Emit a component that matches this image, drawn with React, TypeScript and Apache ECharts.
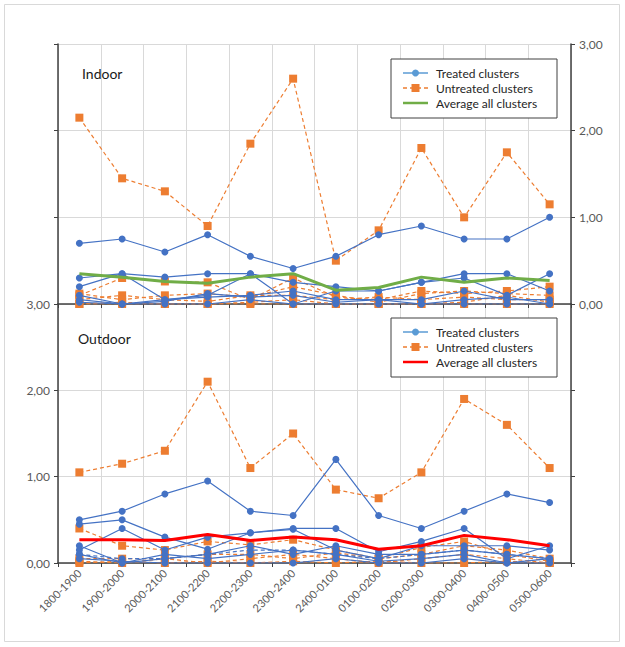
import React, { useEffect, useRef } from "react";
import * as echarts from "echarts";

const categories = [
  "1800-1900", "1900-2000", "2000-2100", "2100-2200", "2200-2300", "2300-2400",
  "2400-0100", "0100-0200", "0200-0300", "0300-0400", "0400-0500", "0500-0600",
];
const yTicks = [0, 1, 2, 3];

// Indoor
const indoorTreated1 = [0.70, 0.75, 0.60, 0.80, 0.55, 0.41, 0.55, 0.80, 0.90, 0.75, 0.75, 1.00];
const indoorTreated2 = [0.30, 0.35, 0.31, 0.35, 0.35, 0.25, 0.20, 0.15, 0.25, 0.35, 0.35, 0.15];
const indoorTreated3 = [0.20, 0.35, 0.05, 0.10, 0.35, 0.00, 0.15, 0.15, 0.25, 0.30, 0.10, 0.35];
const indoorTreated4 = [0.10, 0.00, 0.05, 0.08, 0.10, 0.15, 0.05, 0.05, 0.05, 0.15, 0.05, 0.05];
const indoorTreated5 = [0.05, 0.00, 0.03, 0.12, 0.08, 0.10, 0.02, 0.05, 0.00, 0.05, 0.08, 0.00];
const indoorTreated6 = [0.02, 0.00, 0.00, 0.00, 0.05, 0.00, 0.00, 0.00, 0.00, 0.00, 0.00, 0.00];
const indoorUntreated1 = [2.15, 1.45, 1.30, 0.90, 1.85, 2.60, 0.50, 0.85, 1.80, 1.00, 1.75, 1.15];
const indoorUntreated2 = [0.10, 0.30, 0.26, 0.25, 0.05, 0.30, 0.08, 0.05, 0.15, 0.12, 0.15, 0.20];
const indoorUntreated3 = [0.12, 0.05, 0.10, 0.12, 0.08, 0.20, 0.10, 0.02, 0.12, 0.15, 0.12, 0.10];
const indoorUntreated4 = [0.05, 0.10, 0.05, 0.03, 0.10, 0.10, 0.05, 0.08, 0.05, 0.08, 0.05, 0.05];
const indoorUntreated5 = [0.00, 0.02, 0.00, 0.00, 0.02, 0.05, 0.00, 0.00, 0.00, 0.02, 0.10, 0.02];
const indoorUntreated6 = [0.00, 0.00, 0.00, 0.00, 0.00, 0.00, 0.00, 0.00, 0.00, 0.00, 0.00, 0.00];
const indoorAverage = [0.35, 0.31, 0.26, 0.24, 0.31, 0.35, 0.16, 0.19, 0.31, 0.25, 0.30, 0.27];

// Outdoor
const outdoorTreated1 = [0.50, 0.60, 0.80, 0.95, 0.60, 0.55, 1.20, 0.55, 0.40, 0.60, 0.80, 0.70];
const outdoorTreated2 = [0.45, 0.50, 0.30, 0.16, 0.35, 0.40, 0.40, 0.13, 0.25, 0.40, 0.05, 0.20];
const outdoorTreated3 = [0.15, 0.40, 0.15, 0.30, 0.35, 0.39, 0.15, 0.05, 0.20, 0.20, 0.20, 0.15];
const outdoorTreated4 = [0.20, 0.00, 0.05, 0.10, 0.20, 0.10, 0.20, 0.10, 0.10, 0.15, 0.10, 0.05];
const outdoorTreated5 = [0.10, 0.00, 0.10, 0.05, 0.10, 0.15, 0.10, 0.02, 0.05, 0.10, 0.00, 0.05];
const outdoorTreated6 = [0.05, 0.02, 0.00, 0.00, 0.00, 0.00, 0.05, 0.00, 0.00, 0.05, 0.00, 0.00];
const outdoorTreated7 = [0.10, 0.05, 0.05, 0.10, 0.15, 0.15, 0.10, 0.05, 0.10, 0.15, 0.10, 0.05];
const outdoorUntreated1 = [1.05, 1.15, 1.30, 2.10, 1.10, 1.50, 0.85, 0.75, 1.05, 1.90, 1.60, 1.10];
const outdoorUntreated2 = [0.40, 0.20, 0.15, 0.25, 0.21, 0.27, 0.15, 0.05, 0.10, 0.20, 0.15, 0.05];
const outdoorUntreated3 = [0.05, 0.05, 0.05, 0.10, 0.10, 0.05, 0.12, 0.05, 0.18, 0.25, 0.10, 0.02];
const outdoorUntreated4 = [0.02, 0.00, 0.05, 0.00, 0.05, 0.10, 0.05, 0.00, 0.05, 0.10, 0.05, 0.00];
const outdoorUntreated5 = [0.00, 0.02, 0.00, 0.02, 0.00, 0.02, 0.00, 0.02, 0.00, 0.00, 0.02, 0.00];
const outdoorAverage = [0.27, 0.27, 0.26, 0.33, 0.26, 0.30, 0.27, 0.16, 0.20, 0.32, 0.27, 0.20];

const panelTitles = ["Indoor", "Outdoor"];
const legendNames = ["Treated clusters", "Untreated clusters", "Average all clusters"];

const BLUE = "#4472C4";
const ORANGE = "#ED7D31";
const GREEN = "#70AD47";
const RED = "#FF0000";
const AXIS = "#404040";
const GRIDC = "#d9d9d9";
const FONT = "Lato, 'Open Sans', sans-serif";

const fmt = (v: number) => v.toFixed(2).replace(".", ",");

function treated(data: number[], g: number, dashed = false) {
  return {
    type: "line", name: legendNames[0], xAxisIndex: g, yAxisIndex: g * 2 + 1, data,
    symbol: "circle", symbolSize: 7, z: 3,
    itemStyle: { color: BLUE },
    lineStyle: { color: BLUE, width: 1.2, type: dashed ? [4, 3] : "solid" },
  };
}
function untreated(data: number[], g: number) {
  return {
    type: "line", name: legendNames[1], xAxisIndex: g, yAxisIndex: g * 2 + 1, data,
    symbol: "rect", symbolSize: 8, z: 2,
    itemStyle: { color: ORANGE },
    lineStyle: { color: ORANGE, width: 1.2, type: [4, 3] },
  };
}
function average(data: number[], g: number, color: string) {
  return {
    type: "line", name: legendNames[2], xAxisIndex: g, yAxisIndex: g * 2 + 1, data,
    symbol: "none", z: 4,
    lineStyle: { color, width: 3 },
  };
}

function legendBox(x: number, y: number, avgColor: string) {
  const rowY = [y + 14, y + 29, y + 44];
  const lx1 = x + 12, lx2 = x + 37, tx = x + 45;
  return [
    { type: "rect", shape: { x, y, width: 166, height: 59 }, style: { fill: "#fff", stroke: "#404040", lineWidth: 1 }, z: 10 },
    { type: "line", shape: { x1: lx1, y1: rowY[0], x2: lx2, y2: rowY[0] }, style: { stroke: "#5B9BD5", lineWidth: 1.5 }, z: 11 },
    { type: "circle", shape: { cx: (lx1 + lx2) / 2, cy: rowY[0], r: 3.5 }, style: { fill: "#5B9BD5" }, z: 11 },
    { type: "line", shape: { x1: lx1, y1: rowY[1], x2: lx2, y2: rowY[1] }, style: { stroke: ORANGE, lineWidth: 1.5, lineDash: [4, 3] }, z: 11 },
    { type: "rect", shape: { x: (lx1 + lx2) / 2 - 4, y: rowY[1] - 4, width: 8, height: 8 }, style: { fill: ORANGE }, z: 11 },
    { type: "line", shape: { x1: lx1, y1: rowY[2], x2: lx2, y2: rowY[2] }, style: { stroke: avgColor, lineWidth: 2.5 }, z: 11 },
    ...legendNames.map((n, i) => ({
      type: "text", x: tx, y: rowY[i], z: 11,
      style: { text: n, fill: "#262626", font: `12px ${FONT}`, textVerticalAlign: "middle", verticalAlign: "middle" },
    })),
  ];
}

export default function App() {
  const ref = useRef<HTMLDivElement>(null);
  useEffect(() => {
    if (!ref.current) return;
    const chart = echarts.init(ref.current, null, { renderer: "svg" });
    const axisLine = { show: true, lineStyle: { color: AXIS, width: 1.5 } };
    const axisTick = { show: true, length: 4, inside: false, lineStyle: { color: AXIS, width: 1 } };
    const yBase = { type: "value", min: yTicks[0], max: yTicks[yTicks.length - 1], interval: 1, axisLine, axisTick };
    const yLabel = { show: true, formatter: fmt, color: "#595959", fontSize: 12, fontFamily: FONT, margin: 8 };
    const option = {
      animation: false,
      backgroundColor: "#fff",
      grid: [
        { left: 58, right: 54, top: 44, height: 260 },
        { left: 58, right: 54, top: 304, height: 259 },
      ],
      xAxis: [0, 1].map((g) => ({
        type: "category", gridIndex: g, data: categories, boundaryGap: true,
        axisLine, axisTick: { ...axisTick, interval: 0 },
        axisLabel: g === 0 ? { show: false } : { show: true, rotate: 45, interval: 0, color: "#595959", fontSize: 11, fontFamily: FONT, margin: 8 },
        splitLine: { show: true, interval: 0, lineStyle: { color: GRIDC, width: 1 } },
      })),
      yAxis: [
        { ...yBase, gridIndex: 0, position: "left", axisLabel: { show: false }, splitLine: { show: true, lineStyle: { color: GRIDC } } },
        { ...yBase, gridIndex: 0, position: "right", axisLabel: yLabel, splitLine: { show: false } },
        { ...yBase, gridIndex: 1, position: "left", axisLabel: yLabel, splitLine: { show: true, lineStyle: { color: GRIDC } } },
        { ...yBase, gridIndex: 1, position: "right", axisLabel: { show: false }, splitLine: { show: false } },
      ],
      series: [
        untreated(indoorUntreated6, 0), untreated(indoorUntreated5, 0), untreated(indoorUntreated4, 0),
        untreated(indoorUntreated3, 0), untreated(indoorUntreated2, 0), untreated(indoorUntreated1, 0),
        treated(indoorTreated6, 0), treated(indoorTreated5, 0), treated(indoorTreated4, 0),
        treated(indoorTreated3, 0), treated(indoorTreated2, 0), treated(indoorTreated1, 0),
        average(indoorAverage, 0, GREEN),
        untreated(outdoorUntreated5, 1), untreated(outdoorUntreated4, 1), untreated(outdoorUntreated3, 1),
        untreated(outdoorUntreated2, 1), untreated(outdoorUntreated1, 1),
        treated(outdoorTreated7, 1, true), treated(outdoorTreated6, 1), treated(outdoorTreated5, 1),
        treated(outdoorTreated4, 1), treated(outdoorTreated3, 1), treated(outdoorTreated2, 1),
        treated(outdoorTreated1, 1),
        average(outdoorAverage, 1, RED),
      ],
      graphic: [
        { type: "rect", shape: { x: 4.5, y: 4.5, width: 615, height: 637 }, style: { fill: "none", stroke: GRIDC, lineWidth: 1 }, z: -1, silent: true },
        { type: "text", x: 82, y: 73, style: { text: panelTitles[0], fill: "#1a1a1a", font: `14px ${FONT}`, verticalAlign: "middle", textVerticalAlign: "middle" }, z: 10 },
        { type: "text", x: 78, y: 338, style: { text: panelTitles[1], fill: "#1a1a1a", font: `14px ${FONT}`, verticalAlign: "middle", textVerticalAlign: "middle" }, z: 10 },
        ...legendBox(391, 59, GREEN),
        ...legendBox(391, 318, RED),
      ],
    };
    chart.setOption(option as any);
    return () => chart.dispose();
  }, []);
  return (
    <div
      ref={ref}
      style={{ position: "fixed", left: 0, top: 0, width: 625, height: 647, background: "#fff" }}
    />
  );
}
